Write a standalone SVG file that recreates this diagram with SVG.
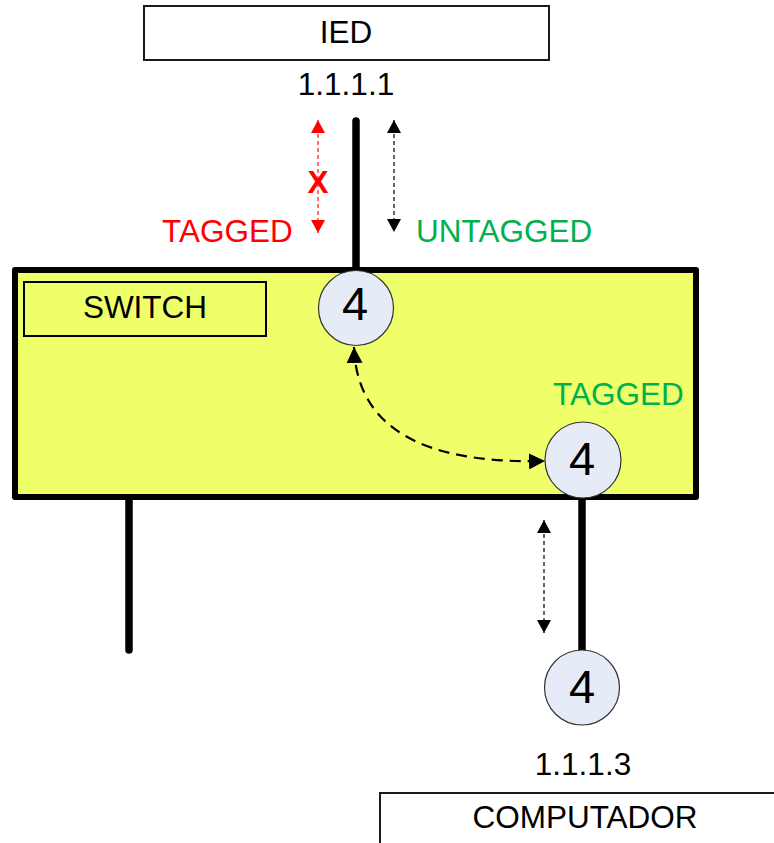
<svg xmlns="http://www.w3.org/2000/svg" width="774" height="843" viewBox="0 0 774 843">
  <defs>
    <style>
      .lbl { font-family: "Liberation Sans", Arial, sans-serif; font-size: 31.5px; }
      .box { fill: #ffffff; stroke: #1a1a1a; stroke-width: 2; }
      .port { fill: #E6ECF7; stroke: #333333; stroke-width: 1.2; }
      .num { font-family: "Liberation Sans", Arial, sans-serif; font-size: 47px; fill: #000; text-anchor: middle; }
      .cable { stroke: #000; stroke-width: 7.5; stroke-linecap: round; fill: none; }
      .flow { stroke: #333; stroke-width: 1.5; stroke-dasharray: 4 3; fill: none; }
      .flow-red { stroke: #FF4040; stroke-width: 1.5; stroke-dasharray: 4 3; fill: none; }
      .link { stroke: #000; stroke-width: 2.2; stroke-dasharray: 11 7; fill: none; }
      .red { fill: #FF0000; }
      .green { fill: #00B050; }
    </style>
    <marker id="ah" viewBox="0 0 13 14" refX="13" refY="7" markerWidth="13" markerHeight="14" markerUnits="userSpaceOnUse" orient="auto-start-reverse">
      <path d="M0,0 L13,7 L0,14 z" fill="#000"/>
    </marker>
    <marker id="ah-red" viewBox="0 0 13 14" refX="13" refY="7" markerWidth="13" markerHeight="14" markerUnits="userSpaceOnUse" orient="auto-start-reverse">
      <path d="M0,0 L13,7 L0,14 z" fill="#FF0000"/>
    </marker>
    <marker id="ah-big" viewBox="0 0 16 16" refX="16" refY="8" markerWidth="16" markerHeight="16" markerUnits="userSpaceOnUse" orient="auto-start-reverse">
      <path d="M0,0 L16,8 L0,16 z" fill="#000"/>
    </marker>
  </defs>

  <rect width="774" height="843" fill="#ffffff"/>

  <!-- cables -->
  <g id="cables">
    <line class="cable" x1="356" y1="121" x2="356" y2="272"/>
    <line class="cable" x1="129" y1="496" x2="129" y2="650"/>
    <line class="cable" x1="582" y1="496" x2="582" y2="652"/>
  </g>

  <!-- switch -->
  <g id="switch">
    <rect x="15" y="270" width="681" height="227" fill="#EFFF6A" stroke="#000" stroke-width="6" stroke-linejoin="round"/>
    <rect x="24" y="282" width="242" height="54" fill="#EFFF6A" stroke="#000" stroke-width="2"/>
    <text class="lbl" x="145" y="318" text-anchor="middle">SWITCH</text>
  </g>

  <!-- IED -->
  <g id="ied">
    <rect class="box" x="144" y="6" width="405" height="54"/>
    <text class="lbl" x="346" y="43" text-anchor="middle">IED</text>
    <text class="lbl" x="346" y="95" text-anchor="middle" font-size="30">1.1.1.1</text>
  </g>

  <!-- computer -->
  <g id="computador">
    <rect class="box" x="380" y="793" width="420" height="80"/>
    <text class="lbl" x="585" y="828" text-anchor="middle">COMPUTADOR</text>
    <text class="lbl" x="583" y="775" text-anchor="middle" font-size="30">1.1.1.3</text>
  </g>

  <!-- ports -->
  <g id="port-ied">
    <circle class="port" cx="356" cy="308" r="37.5"/>
    <text class="num" x="355" y="320" font-size="37">4</text>
  </g>
  <g id="port-pc">
    <circle class="port" cx="583" cy="460" r="38"/>
    <text class="num" x="582" y="475">4</text>
  </g>
  <g id="nic-pc">
    <circle class="port" cx="582" cy="687.5" r="37.5"/>
    <text class="num" x="582" y="703">4</text>
  </g>

  <!-- traffic arrows -->
  <g id="connectors">
    <line class="flow-red" x1="318" y1="120" x2="318" y2="233" marker-start="url(#ah-red)" marker-end="url(#ah-red)"/>
    <line class="flow" x1="394" y1="120" x2="394" y2="232" marker-start="url(#ah)" marker-end="url(#ah)"/>
    <line class="flow" x1="544" y1="520" x2="544" y2="633" marker-start="url(#ah)" marker-end="url(#ah)"/>
    <path class="link" d="M354 347 Q358 466 545 461" marker-start="url(#ah-big)" marker-end="url(#ah-big)"/>
  </g>

  <!-- labels -->
  <g id="labels">
    <text class="lbl red" x="318" y="193" text-anchor="middle" font-weight="bold" font-size="29">X</text>
    <text class="lbl red" x="162" y="242">TAGGED</text>
    <text class="lbl green" x="416" y="242">UNTAGGED</text>
    <text class="lbl green" x="553" y="405">TAGGED</text>
  </g>
</svg>
